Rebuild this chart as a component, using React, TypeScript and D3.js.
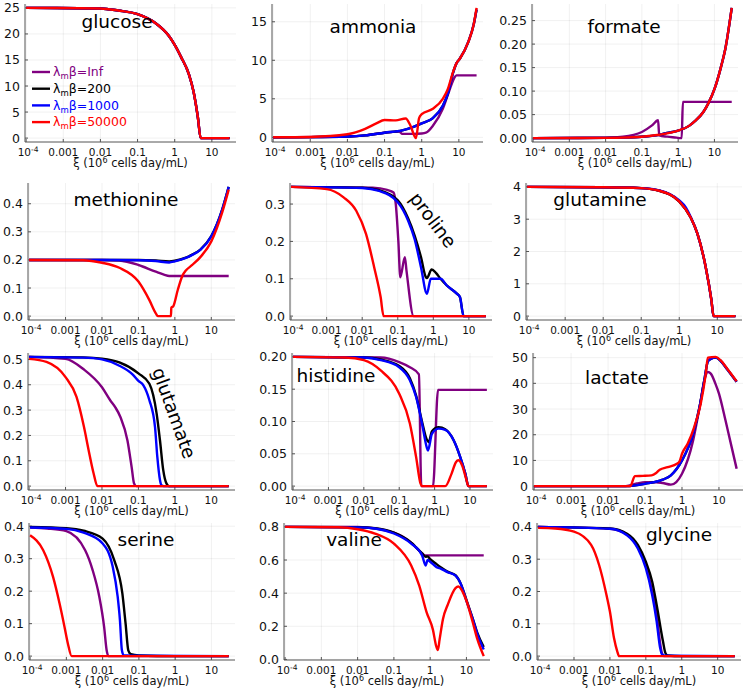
import React from 'react';
import * as d3 from 'd3';

type Pt = [number, number];

const X_TICKS = [1e-4, 1e-3, 1e-2, 0.1, 1, 10];
const X_TICK_LABELS = ['10|-4', '0.001', '0.01', '0.1', '1', '10'];
const SERIES_NAMES = ['Inf', '200', '1000', '50000'];
const SERIES_COLORS = ['#800080', '#000000', '#0000ff', '#ff0000'];

// ---------- data (x = ξ, y = concentration) ----------
const glucoseAll: Pt[] = [[1e-4,25],[0.01,24.9],[0.03,24.5],[0.1,23.8],[0.3,22.1],[0.7,19.6],[1,17.9],[1.5,15.5],[2.4,12.3],[3.2,9],[4.2,4],[5,0],[30,0]];

const ammoniaPurple: Pt[] = [[1e-4,0],[0.01,0.1],[0.03,0.25],[0.1,0.6],[0.25,0.74],[0.3,0.45],[0.6,0.45],[1,0.5],[1.3,0.6],[2,1.5],[3.7,3.7],[5.4,5.9],[7.5,7.7],[8.6,8.04],[30,8.04]];
const ammoniaBlue: Pt[] = [[1e-4,0],[0.001,0.02],[0.01,0.1],[0.03,0.25],[0.1,0.6],[0.3,0.9],[0.6,1.35],[1,1.8],[2,2.5],[3.7,4.1],[5,5.6],[7,8.4],[8.6,9.6],[10.6,10.2],[18,12.4],[25,14.6],[30,16.6]];
const ammoniaRed: Pt[] = [[1e-4,0],[0.001,0.05],[0.01,0.4],[0.03,1.1],[0.06,1.8],[0.1,2.25],[0.2,2.2],[0.37,2.45],[0.5,1.5],[0.7,-0.1],[0.85,2.5],[1,3],[2,3.7],[3.7,5],[5,6.2],[7,8.5],[8.6,9.6],[10.6,10.2],[18,12.4],[25,14.6],[30,16.8]];

const formatePurple: Pt[] = [[1e-4,0],[0.01,0.001],[0.03,0.003],[0.1,0.013],[0.19,0.027],[0.28,0.038],[0.3,0.006],[0.5,0.003],[0.9,0.001],[1.15,0],[1.25,0],[1.35,0.077],[30,0.077]];
const formateBlue: Pt[] = [[1e-4,0],[0.01,0.0005],[0.1,0.003],[0.3,0.007],[0.5,0.011],[0.9,0.015],[2,0.026],[3,0.037],[5,0.056],[7,0.076],[10,0.104],[15,0.15],[20,0.19],[30,0.277]];
const formateRed: Pt[] = [[1e-4,0],[0.01,0.0005],[0.1,0.003],[0.3,0.007],[1,0.016],[2,0.026],[3,0.037],[5,0.056],[7,0.076],[10,0.104],[15,0.15],[20,0.19],[30,0.277]];

const methioninePurple: Pt[] = [[1e-4,0.2],[0.01,0.2],[0.03,0.198],[0.1,0.182],[0.3,0.158],[0.5,0.148],[0.7,0.143],[30,0.143]];
const methionineBlack: Pt[] = [[1e-4,0.2],[0.01,0.2],[0.1,0.2],[0.3,0.198],[0.7,0.195],[1,0.197],[2,0.208],[3,0.219],[5,0.237],[10,0.285],[20,0.38],[30,0.46]];
const methionineBlue: Pt[] = [[1e-4,0.2],[0.01,0.2],[0.1,0.199],[0.3,0.196],[0.7,0.191],[1,0.195],[2,0.207],[3,0.218],[5,0.236],[10,0.284],[20,0.38],[30,0.46]];
const methionineRed: Pt[] = [[1e-4,0.2],[0.003,0.199],[0.01,0.19],[0.03,0.172],[0.1,0.123],[0.2,0.057],[0.3,0.01],[0.34,0],[0.78,0],[0.8,0.03],[0.9,0.035],[1.2,0.093],[1.6,0.143],[2,0.162],[3,0.182],[5,0.21],[10,0.266],[20,0.37],[30,0.45]];

const prolinePurple: Pt[] = [[1e-4,0.346],[0.02,0.344],[0.05,0.338],[0.076,0.331],[0.088,0.3],[0.104,0.2],[0.118,0.104],[0.158,0.158],[0.176,0.122],[0.28,0],[30,0]];
const prolineBlack: Pt[] = [[1e-4,0.346],[0.01,0.344],[0.03,0.337],[0.1,0.31],[0.195,0.262],[0.3,0.215],[0.45,0.158],[0.62,0.104],[0.66,0.102],[0.9,0.125],[1.2,0.115],[1.6,0.1],[2.4,0.082],[4.5,0.061],[5.6,0.051],[7.1,0],[30,0]];
const prolineBlue: Pt[] = [[1e-4,0.346],[0.01,0.343],[0.03,0.335],[0.1,0.305],[0.195,0.256],[0.3,0.205],[0.45,0.131],[0.66,0.06],[0.85,0.1],[1.6,0.1],[2.4,0.082],[4.5,0.061],[5.6,0.051],[7.1,0],[30,0]];
const prolineRed: Pt[] = [[1e-4,0.346],[0.001,0.34],[0.003,0.318],[0.0068,0.282],[0.0128,0.22],[0.0217,0.131],[0.033,0.051],[0.04,0],[30,0]];

const glutamineAll: Pt[] = [[1e-4,4],[0.01,3.99],[0.1,3.96],[0.3,3.88],[1,3.55],[2,3.05],[3,2.55],[5,1.5],[7,0.5],[8,0],[30,0]];
const glutamineBlue: Pt[] = [[1e-4,4],[0.01,3.99],[0.1,3.96],[0.3,3.89],[1,3.58],[1.5,3.36],[2,3.07],[3,2.55],[5,1.5],[7,0.5],[8,0],[30,0]];

const glutamatePurple: Pt[] = [[1e-4,0.51],[0.001,0.502],[0.0032,0.46],[0.01,0.39],[0.0168,0.339],[0.023,0.312],[0.032,0.273],[0.05,0.18],[0.065,0.076],[0.076,0.01],[0.087,0],[30,0]];
const glutamateBlack: Pt[] = [[1e-4,0.51],[0.003,0.508],[0.01,0.503],[0.03,0.488],[0.1,0.445],[0.2,0.404],[0.316,0.286],[0.39,0.181],[0.48,0.063],[0.59,0.01],[0.7,0],[30,0]];
const glutamateBlue: Pt[] = [[1e-4,0.51],[0.003,0.507],[0.01,0.5],[0.03,0.475],[0.07,0.44],[0.1,0.415],[0.137,0.398],[0.2,0.339],[0.285,0.234],[0.33,0.115],[0.39,0.024],[0.43,0.003],[0.5,0],[30,0]];
const glutamateRed: Pt[] = [[1e-4,0.502],[0.0003,0.49],[0.001,0.43],[0.002,0.352],[0.0032,0.234],[0.0043,0.142],[0.0059,0.05],[0.0075,0],[30,0]];

const histidinePurple: Pt[] = [[1e-4,0.2],[0.03,0.199],[0.1,0.192],[0.2,0.184],[0.36,0.173],[0.42,0],[0.9,0],[1.25,0.149],[30,0.149]];
const histidineBlack: Pt[] = [[1e-4,0.2],[0.01,0.199],[0.03,0.196],[0.1,0.186],[0.2,0.167],[0.3,0.14],[0.44,0.1],[0.6,0.072],[0.68,0.068],[0.84,0.085],[1.3,0.091],[2,0.088],[3.45,0.071],[5.3,0.045],[7.4,0.019],[9,0],[30,0]];
const histidineBlue: Pt[] = [[1e-4,0.2],[0.01,0.199],[0.03,0.195],[0.1,0.184],[0.2,0.164],[0.3,0.138],[0.44,0.097],[0.6,0.06],[0.65,0.055],[0.84,0.081],[1.3,0.089],[2,0.087],[3.45,0.071],[5.3,0.045],[7.4,0.019],[9,0],[30,0]];
const histidineRed: Pt[] = [[1e-4,0.2],[0.003,0.199],[0.01,0.195],[0.03,0.179],[0.1,0.143],[0.2,0.097],[0.3,0.045],[0.4,0.004],[0.45,0],[2,0],[3,0.019],[4,0.037],[4.7,0.04],[6,0.032],[8,0.009],[9,0],[30,0]];

const lactatePurple: Pt[] = [[1e-4,0],[0.03,0],[0.06,1],[0.1,1.5],[0.2,1.5],[0.3,1.2],[0.5,0.6],[0.7,1.6],[1,4.8],[2,17.8],[3,30.8],[4,41],[5,44.4],[6,43.8],[8,39.9],[10,36],[15,25.6],[20,17.8],[30,6.8]];
const lactateBlue: Pt[] = [[1e-4,0],[0.03,0],[0.1,0.9],[0.3,2.5],[0.5,4.2],[1,10],[2,20.4],[3,31],[4,41],[5,48.5],[6,49.5],[8.1,50],[11,48.8],[16.7,45.5],[30,40.6]];
const lactateRed: Pt[] = [[1e-4,0],[0.04,0],[0.053,3.9],[0.088,4],[0.15,4.2],[0.2,5.1],[0.25,6.4],[0.41,7.4],[0.73,8.7],[0.85,9.5],[1,12.6],[1.42,16.5],[2.14,23],[3.2,32],[4.4,43.8],[5,50],[8.1,50.3],[11,49],[16.7,45.7],[30,40.8]];

const serinePurple: Pt[] = [[1e-4,0.396],[0.0003,0.393],[0.001,0.385],[0.0033,0.326],[0.0053,0.265],[0.0081,0.183],[0.011,0.09],[0.0129,0.018],[0.0145,0],[30,0]];
const serineBlack: Pt[] = [[1e-4,0.398],[0.001,0.394],[0.003,0.386],[0.01,0.362],[0.021,0.295],[0.035,0.193],[0.043,0.1],[0.051,0.018],[0.06,0.006],[0.1,0.002],[1,0],[30,0]];
const serineBlue: Pt[] = [[1e-4,0.396],[0.001,0.392],[0.003,0.38],[0.01,0.347],[0.019,0.275],[0.026,0.183],[0.03,0.111],[0.034,0.018],[0.038,0.003],[0.1,0.001],[30,0]];
const serineRed: Pt[] = [[1e-4,0.372],[0.00023,0.326],[0.00043,0.244],[0.00065,0.162],[0.00089,0.09],[0.0011,0.039],[0.0014,0],[30,0]];

const valinePurple: Pt[] = [[1e-4,0.8],[0.01,0.799],[0.1,0.765],[0.3,0.705],[0.6,0.64],[0.72,0.628],[30,0.628]];
const valineBlack: Pt[] = [[1e-4,0.8],[0.01,0.798],[0.03,0.792],[0.1,0.765],[0.3,0.705],[0.6,0.64],[0.75,0.62],[0.85,0.622],[1,0.605],[1.5,0.575],[2,0.555],[3,0.53],[5,0.508],[7,0.456],[10,0.36],[15,0.245],[20,0.16],[30,0.075]];
const valineBlue: Pt[] = [[1e-4,0.8],[0.01,0.797],[0.03,0.79],[0.1,0.76],[0.3,0.699],[0.6,0.628],[0.75,0.567],[0.85,0.6],[1,0.59],[1.5,0.557],[2,0.547],[3,0.527],[5,0.506],[7,0.456],[10,0.354],[15,0.243],[20,0.152],[30,0.06]];
const valineRed: Pt[] = [[1e-4,0.8],[0.003,0.798],[0.01,0.786],[0.03,0.76],[0.1,0.699],[0.3,0.567],[0.5,0.446],[0.8,0.284],[1.19,0.18],[1.47,0.08],[1.63,0.057],[1.82,0.12],[2.25,0.243],[3.1,0.334],[5,0.43],[6,0.44],[8,0.405],[10,0.354],[15,0.223],[20,0.122],[30,0.02]];

const glycinePurple: Pt[] = [[1e-4,0.4],[0.01,0.394],[0.03,0.376],[0.06,0.338],[0.1,0.282],[0.15,0.2],[0.2,0.128],[0.25,0.04],[0.28,0.01],[0.32,0],[30,0]];
const glycineBlack: Pt[] = [[1e-4,0.4],[0.01,0.395],[0.03,0.379],[0.06,0.344],[0.1,0.292],[0.15,0.231],[0.2,0.159],[0.3,0.046],[0.35,0.01],[0.4,0.002],[1,0],[30,0]];
const glycineBlue: Pt[] = [[1e-4,0.4],[0.01,0.394],[0.03,0.374],[0.06,0.333],[0.1,0.272],[0.15,0.19],[0.2,0.108],[0.25,0.026],[0.28,0.006],[0.35,0.001],[30,0]];
const glycineRed: Pt[] = [[1e-4,0.397],[0.0003,0.395],[0.001,0.385],[0.003,0.344],[0.005,0.282],[0.008,0.19],[0.01,0.138],[0.013,0.056],[0.016,0.015],[0.018,0],[30,0]];

// ---------- panels ----------
const PANELS = [
  { title: 'glucose', series: [glucoseAll, glucoseAll, glucoseAll, glucoseAll], yTicks: [0, 5, 10, 15, 20, 25], fmt: '0' },
  { title: 'ammonia', series: [ammoniaPurple, ammoniaBlue, ammoniaBlue, ammoniaRed], yTicks: [0, 5, 10, 15], fmt: '0' },
  { title: 'formate', series: [formatePurple, formateBlue, formateBlue, formateRed], yTicks: [0, 0.05, 0.1, 0.15, 0.2, 0.25], fmt: '2' },
  { title: 'methionine', series: [methioninePurple, methionineBlack, methionineBlue, methionineRed], yTicks: [0, 0.1, 0.2, 0.3, 0.4], fmt: '1' },
  { title: 'proline', series: [prolinePurple, prolineBlack, prolineBlue, prolineRed], yTicks: [0, 0.1, 0.2, 0.3], fmt: '1' },
  { title: 'glutamine', series: [glutamineAll, glutamineAll, glutamineBlue, glutamineAll], yTicks: [0, 1, 2, 3, 4], fmt: '0' },
  { title: 'glutamate', series: [glutamatePurple, glutamateBlack, glutamateBlue, glutamateRed], yTicks: [0, 0.1, 0.2, 0.3, 0.4, 0.5], fmt: '1' },
  { title: 'histidine', series: [histidinePurple, histidineBlack, histidineBlue, histidineRed], yTicks: [0, 0.05, 0.1, 0.15, 0.2], fmt: '2' },
  { title: 'lactate', series: [lactatePurple, lactateBlue, lactateBlue, lactateRed], yTicks: [0, 10, 20, 30, 40, 50], fmt: '0' },
  { title: 'serine', series: [serinePurple, serineBlack, serineBlue, serineRed], yTicks: [0, 0.1, 0.2, 0.3, 0.4], fmt: '1' },
  { title: 'valine', series: [valinePurple, valineBlack, valineBlue, valineRed], yTicks: [0, 0.2, 0.4, 0.6, 0.8], fmt: '1' },
  { title: 'glycine', series: [glycinePurple, glycineBlack, glycineBlue, glycineRed], yTicks: [0, 0.1, 0.2, 0.3, 0.4], fmt: '1' },
];

// ---------- layout (pixels) ----------
const ROWS = [[4, 142], [183, 320], [353, 490], [523, 660]];
const LAYOUT = [
  { L: 25, R: 236, tx: 117, ty: 28, rot: 0 },
  { L: 272, R: 483, tx: 373, ty: 33, rot: 0 },
  { L: 532, R: 738, tx: 624, ty: 33, rot: 0 },
  { L: 28, R: 235, tx: 126, ty: 206, rot: 0 },
  { L: 290, R: 492, tx: 433, ty: 220, rot: 53 },
  { L: 526, R: 742, tx: 600, ty: 206, rot: 0 },
  { L: 28, R: 235, tx: 174, ty: 413, rot: 70 },
  { L: 292, R: 493, tx: 336, ty: 382, rot: 0 },
  { L: 533, R: 743, tx: 617, ty: 384, rot: 0 },
  { L: 29, R: 235, tx: 146, ty: 546, rot: 0 },
  { L: 284, R: 490, tx: 354, ty: 546, rot: 0 },
  { L: 537, R: 741, tx: 679, ty: 541, rot: 0 },
];
const X_MIN = Math.pow(10, -4.03);
const X_MAX = Math.pow(10, 1.65);
const FONT = 'DejaVu Sans, sans-serif';

function Panel({ idx }: { idx: number }) {
  const p = PANELS[idx];
  const lay = LAYOUT[idx];
  const [T, B] = ROWS[Math.floor(idx / 3)];
  const all = p.series.flat();
  const ext = d3.extent(all, (d) => d[1]) as [number, number];
  const span = ext[1] - ext[0];
  const x = d3.scaleLog().domain([X_MIN, X_MAX]).range([lay.L, lay.R]);
  const y = d3.scaleLinear().domain([ext[0] - 0.03 * span, ext[1] + 0.03 * span]).range([B, T]);
  const line = d3.line<Pt>().x((d) => x(d[0])).y((d) => y(d[1])).curve(d3.curveMonotoneX);
  const fmt = p.fmt === '0' ? d3.format('d') : p.fmt === '1' ? d3.format('.1f') : d3.format('.2f');
  return (
    <g>
      {X_TICKS.map((t) => (
        <line key={'gx' + t} x1={x(t)} x2={x(t)} y1={T} y2={B} stroke="#000" strokeOpacity={0.1} strokeWidth={0.6} />
      ))}
      {p.yTicks.map((t) => (
        <line key={'gy' + t} x1={lay.L} x2={lay.R} y1={y(t)} y2={y(t)} stroke="#000" strokeOpacity={0.1} strokeWidth={0.6} />
      ))}
      <line x1={lay.L} x2={lay.L} y1={T} y2={B} stroke="#555" strokeWidth={1} />
      <line x1={lay.L} x2={lay.R} y1={B} y2={B} stroke="#555" strokeWidth={1} />
      {X_TICKS.map((t, i) => {
        const lab = X_TICK_LABELS[i];
        const parts = lab.split('|');
        return (
          <g key={'tx' + t}>
            <line x1={x(t)} x2={x(t)} y1={B} y2={B - 3} stroke="#555" strokeWidth={1} />
            <text x={x(t) + (parts[1] ? 2 : 0)} y={B + 13.5} textAnchor="middle" fontSize={10.5} fontFamily={FONT} fill="#111">
              {parts[0]}
              {parts[1] ? <tspan dy={-3.5} fontSize={7.5}>{parts[1]}</tspan> : null}
            </text>
          </g>
        );
      })}
      {p.yTicks.map((t) => (
        <g key={'ty' + t}>
          <line x1={lay.L} x2={lay.L + 3} y1={y(t)} y2={y(t)} stroke="#555" strokeWidth={1} />
          <text x={lay.L - 5} y={y(t)} dy="0.36em" textAnchor="end" fontSize={12.5} fontFamily={FONT} fill="#111">
            {fmt(t)}
          </text>
        </g>
      ))}
      <text x={(lay.L + lay.R) / 2} y={B + 25} textAnchor="middle" fontSize={11.5} fontFamily={FONT} fill="#111">
        ξ (10<tspan dy={-4} fontSize={8}>6</tspan><tspan dy={4}> cells day/mL)</tspan>
      </text>
      {p.series.map((s, i) => (
        <path key={'s' + i} d={line(s) || ''} fill="none" stroke={SERIES_COLORS[i]} strokeWidth={2.4} strokeLinejoin="round" />
      ))}
      {lay.rot === 0 ? (
        <text x={lay.tx} y={lay.ty} textAnchor="middle" fontSize={18.5} fontFamily={FONT} fill="#000">{p.title}</text>
      ) : (
        <text x={lay.tx} y={lay.ty} dy="0.35em" textAnchor="middle" fontSize={18.5} fontFamily={FONT} fill="#000"
          transform={`rotate(${lay.rot},${lay.tx},${lay.ty})`}>{p.title}</text>
      )}
      {idx === 0
        ? SERIES_NAMES.map((n, i) => (
            <g key={'lg' + i}>
              <line x1={32} x2={50} y1={72 + i * 16.7} y2={72 + i * 16.7} stroke={SERIES_COLORS[i]} strokeWidth={2.4} />
              <text x={53} y={72 + i * 16.7} dy="0.35em" fontSize={12.5} fontFamily={FONT} fill={SERIES_COLORS[i]}>
                λ<tspan dy={3} fontSize={8.5}>m</tspan><tspan dy={-3}>β={n}</tspan>
              </text>
            </g>
          ))
        : null}
    </g>
  );
}

export default function App() {
  return (
    <svg width={747} height={688} style={{ position: 'absolute', left: 0, top: 0, background: '#fff' }}>
      <rect width={747} height={688} fill="#fff" />
      {PANELS.map((_, i) => (
        <Panel key={i} idx={i} />
      ))}
    </svg>
  );
}
